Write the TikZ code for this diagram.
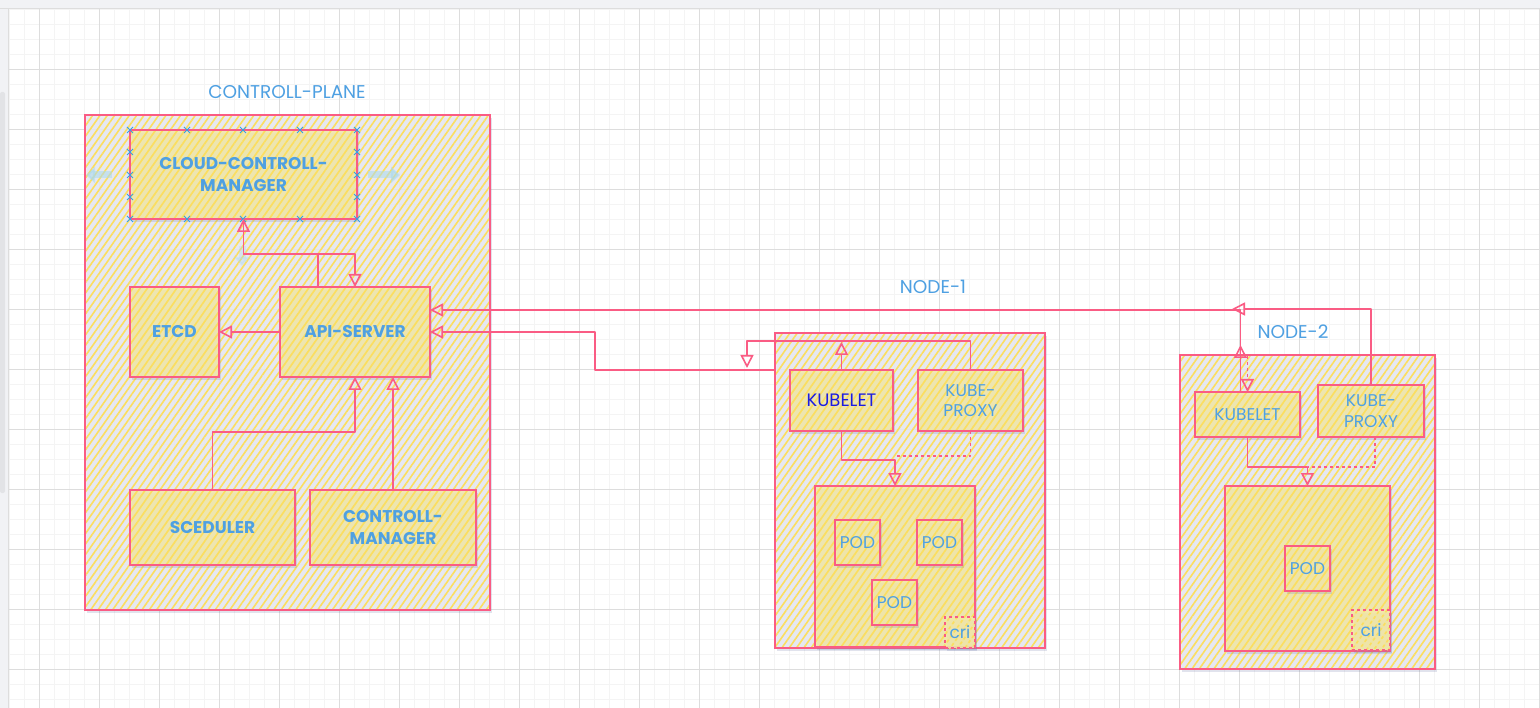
\documentclass[tikz,border=0pt]{standalone}
\usepackage{fontspec}
\setmainfont{Poppins}
\usetikzlibrary{patterns.meta,shadows,arrows.meta,calc}
\definecolor{pinkc}{RGB}{250,92,132}
\definecolor{bluet}{RGB}{78,160,226}
\definecolor{darkbluet}{RGB}{28,28,225}
\definecolor{outerbg}{RGB}{232,233,243}
\definecolor{innerbg}{RGB}{243,233,168}
\definecolor{hatchc}{RGB}{251,222,95}
\definecolor{shadowc}{RGB}{120,128,175}
\definecolor{minorg}{RGB}{244,244,244}
\definecolor{majorg}{RGB}{221,221,221}
\definecolor{barc}{RGB}{241,242,245}
\definecolor{scrollc}{RGB}{226,227,230}
\definecolor{handlec}{RGB}{50,160,230}
\definecolor{hoverc}{RGB}{170,218,236}
\begin{document}
\begin{tikzpicture}[x=1pt,y=-1pt,
  every node/.style={inner sep=0pt, outer sep=0pt},
  sketchbox/.style={drop shadow={shadow xshift=2pt, shadow yshift=-3pt, opacity=0.22, fill=shadowc},
    preaction={fill=#1, fill opacity=0.85},
    pattern={Lines[angle=55,distance=6pt,line width=1.6pt]}, pattern color=hatchc,
    draw=pinkc, line width=1.6pt, anchor=north west, align=center,
    text=bluet, font=\fontsize{17}{20.5}\selectfont},
  outerbox/.style={sketchbox=outerbg},
  innerbox/.style={sketchbox=innerbg},
  boldtext/.style={font=\fontsize{17}{22}\selectfont\bfseries},
  lbl/.style={text=bluet, font=\fontsize{18.5}{20}\selectfont},
  conn/.style={draw=pinkc, line width=1.6pt, line join=round,
    -{Triangle[open, length=13pt, width=13pt]}},
  plainconn/.style={draw=pinkc, line width=1.6pt, line join=round},
  handle/.style={draw=handlec, line width=1pt},
  hover/.style={draw=hoverc, opacity=0.55, line width=7pt,
    -{Triangle[length=9pt, width=16pt]}},
  hmark/.pic={\draw[handle] (-3,-3)--(3,3) (-3,3)--(3,-3);}
]
\useasboundingbox (0,0) rectangle (1540,708);
% ---------- canvas ----------
\fill[white] (0,0) rectangle (1540,708);
\foreach \x in {9,24,...,1540} \draw[minorg, line width=0.6pt] (\x,9)--(\x,708);
\foreach \y in {9,24,...,708} \draw[minorg, line width=0.6pt] (9,\y)--(1540,\y);
\foreach \x in {39,99,...,1540} \draw[majorg, line width=0.8pt] (\x,9)--(\x,708);
\foreach \y in {69,129,...,708} \draw[majorg, line width=0.8pt] (9,\y)--(1540,\y);
\fill[barc] (0,0) rectangle (1540,9);
\draw[majorg, line width=1pt] (0,9)--(1540,9);
\fill[barc] (0,9) rectangle (8,708);
\fill[scrollc, rounded corners=2pt] (0,92) rectangle (5,493);
\draw[majorg, line width=0.8pt] (8,9)--(8,708);

% ---------- control plane ----------
\node[lbl] (cptitle) at (287,92) {CONTROLL-PLANE};
\node[outerbox, minimum width=405pt, minimum height=495pt] (cp) at (85,115) {};
\node[innerbox, boldtext, minimum width=227pt, minimum height=89pt] (ccm) at (130,130) {CLOUD-CONTROLL-\\MANAGER};
\node[innerbox, boldtext, minimum width=89pt, minimum height=90pt] (etcd) at (130,287) {ETCD};
\node[innerbox, boldtext, minimum width=150pt, minimum height=90pt] (api) at (280,287) {API-SERVER};
\node[innerbox, boldtext, minimum width=165pt, minimum height=75pt] (sched) at (130,490) {SCEDULER};
\node[innerbox, boldtext, minimum width=166pt, minimum height=75pt] (cm) at (310,490) {CONTROLL-\\MANAGER};

% hover hints and selection handles
\draw[hover] (112,175) -- (86,175);
\draw[hover] (368,175) -- (400,175);
\draw[hover, opacity=0.3] (242,246) -- (242,266);
\foreach \hx in {130,187,243,300,357} {
  \pic at (\hx,130) {hmark};
  \pic at (\hx,219) {hmark};
}
\foreach \hy in {152,175,197} {
  \pic at (130,\hy) {hmark};
  \pic at (357,\hy) {hmark};
}

\coordinate (j1) at (318,254);
\coordinate (j2) at (355,432);
\draw[conn] ([xshift=-37pt]api.north) -- (j1) -| (ccm.south);
\draw[conn] (ccm.south) |- (j1) -| (api.north);
\draw[conn] (api.west) -- (etcd.east);
\draw[conn] (sched.north) |- (j2) -- (api.south);
\draw[conn] (cm.north) -- (cm.north |- api.south);

% ---------- node 1 ----------
\node[lbl] (n1title) at (933,287) {NODE-1};
\node[outerbox, minimum width=270pt, minimum height=315pt] (n1) at (775,333) {};
\node[innerbox, minimum width=103pt, minimum height=61pt, text=darkbluet, font=\fontsize{18}{20}\selectfont] (kl1) at (790,370) {KUBELET};
\node[innerbox, minimum width=105pt, minimum height=61pt] (kp1) at (918,370) {KUBE-\\PROXY};
\node[innerbox, minimum width=160pt, minimum height=161pt] (pc1) at (815,486) {};
\node[innerbox, minimum width=45pt, minimum height=45pt] (pod1a) at (835,520) {POD};
\node[innerbox, minimum width=45pt, minimum height=45pt] (pod1b) at (917,520) {POD};
\node[innerbox, minimum width=45pt, minimum height=45pt] (pod1c) at (872,580) {POD};
\node[innerbox, dashed, minimum width=30pt, minimum height=31pt, drop shadow={opacity=0}] (cri1) at (945,617) {cri};

\coordinate (j3) at (595,370);
\coordinate (j5) at (747,341);
\coordinate (j7) at (895,460);
\coordinate (j8) at (895,456);
\draw[conn] (kl1.north -| n1.west) -- (j3) |- (api.east);
\draw[conn] (kp1.north) |- (j5) -- ++(0,27);
\draw[conn] (kl1.north) -- ++(0,-28);
\draw[conn] (kl1.south) |- (j7) -- (pc1.north);
\draw[plainconn, dashed] (kp1.south) |- (j8);

% ---------- node 2 ----------
\node[lbl] (n2title) at (1293,332) {NODE-2};
\node[outerbox, minimum width=255pt, minimum height=314pt] (n2) at (1180,355) {};
\node[innerbox, minimum width=105pt, minimum height=45pt] (kl2) at (1195,392) {KUBELET};
\node[innerbox, minimum width=106pt, minimum height=52pt] (kp2) at (1318,385) {KUBE-\\PROXY};
\node[innerbox, minimum width=165pt, minimum height=165pt] (pc2) at (1225,486) {};
\node[innerbox, minimum width=45pt, minimum height=45pt] (pod2) at (1285,546) {POD};
\node[innerbox, dashed, minimum width=38pt, minimum height=40pt, drop shadow={opacity=0}] (cri2) at (1352,610) {cri};

\coordinate (j9) at (1307.5,467);
\coordinate (j10) at (1232,309);
\draw[conn] (kl2.south) |- (j9) -- (pc2.north);
\draw[plainconn, dashed] ([xshift=4pt]kp2.south) |- (j9);
\draw[conn] ([xshift=-7pt]kl2.north) |- ([yshift=22pt]api.east);
\draw[conn] ([xshift=-7pt]kl2.north) -- ++(0,-47);
\draw[conn, dashed] ([yshift=36pt]kl2.north) -- (kl2.north);
\draw[conn] (kp2.north) |- (j10);
\end{tikzpicture}
\end{document}
